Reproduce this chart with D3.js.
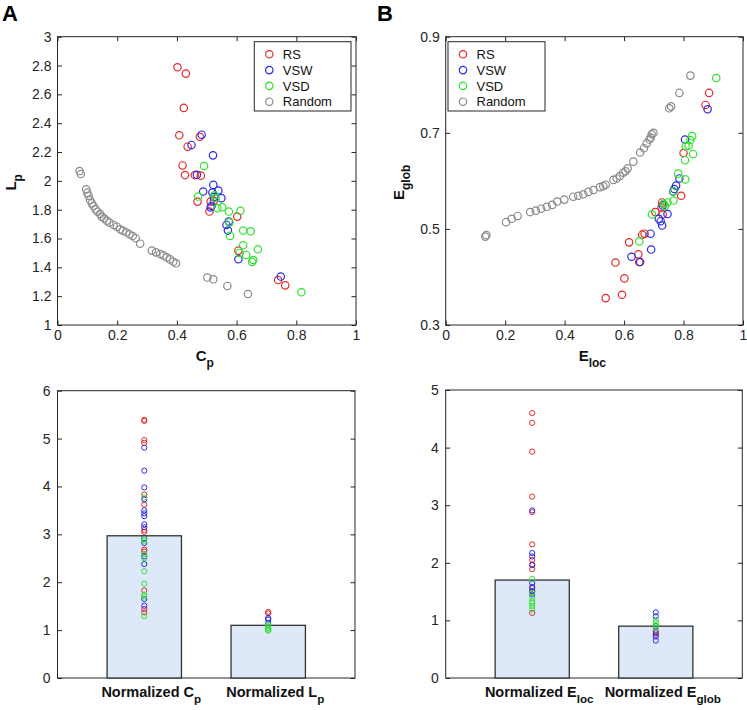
<!DOCTYPE html>
<meta charset="utf-8">
<title>network metrics: RS, VSW, VSD vs random</title>
<style>
body { margin: 0; background: #fff; }
svg { display: block; font-family: "Liberation Sans", Arial, sans-serif; }
.axis .domain { display: none; }
.axis line { stroke: #262626; }
.axis text { fill: #262626; font-size: 14px; }
</style>
<svg width="747" height="710"></svg>
<script src="https://cdn.jsdelivr.net/npm/d3@7/dist/d3.min.js"></script>
<script>
// ---- series ----
var seriesKeys = ["RS", "VSW", "VSD", "Random"];
var seriesColors = ["#e4292b", "#2b2be6", "#2fe22f", "#8a8a8a"];

// panel A : [Cp, Lp]
var rsA = [[0.402,2.788],[0.430,2.744],[0.423,2.506],[0.408,2.316],[0.436,2.237],[0.477,2.306],
  [0.419,2.107],[0.427,2.040],[0.460,2.040],[0.480,2.036],[0.469,1.856],[0.513,1.856],[0.509,1.787],
  [0.524,1.862],[0.602,1.752],[0.606,1.516],[0.739,1.312],[0.763,1.275]];
var vswA = [[0.483,2.320],[0.449,2.249],[0.521,2.177],[0.467,2.042],[0.488,1.926],[0.522,1.972],
  [0.539,1.933],[0.519,1.919],[0.549,1.880],[0.524,1.887],[0.516,1.826],[0.513,1.815],[0.574,1.718],
  [0.566,1.694],[0.571,1.655],[0.606,1.456],[0.748,1.336]];
var vsdA = [[0.491,2.103],[0.471,1.891],[0.530,1.880],[0.526,1.900],[0.536,1.810],[0.552,1.817],
  [0.574,1.787],[0.613,1.792],[0.576,1.712],[0.578,1.618],[0.622,1.655],[0.647,1.650],[0.622,1.553],
  [0.610,1.500],[0.632,1.486],[0.671,1.525],[0.656,1.451],[0.652,1.438],[0.817,1.227]];
var randA = [[0.074,2.068],[0.078,2.047],[0.096,1.941],[0.100,1.918],[0.104,1.897],[0.109,1.867],
  [0.115,1.844],[0.121,1.825],[0.128,1.802],[0.134,1.786],[0.143,1.770],[0.148,1.751],[0.156,1.740],
  [0.165,1.724],[0.174,1.710],[0.188,1.694],[0.199,1.682],[0.210,1.664],[0.219,1.654],[0.230,1.643],
  [0.241,1.629],[0.252,1.617],[0.262,1.602],[0.277,1.564],[0.316,1.516],[0.330,1.504],[0.344,1.492],
  [0.355,1.483],[0.366,1.469],[0.377,1.455],[0.388,1.439],[0.397,1.428],[0.502,1.329],[0.522,1.317],
  [0.569,1.271],[0.638,1.215]];

// panel B : [Eloc, Eglob]
var rsB = [[0.886,0.783],[0.874,0.758],[0.800,0.658],[0.792,0.569],[0.728,0.555],[0.726,0.545],
  [0.730,0.530],[0.705,0.535],[0.661,0.488],[0.669,0.490],[0.617,0.472],[0.648,0.447],[0.651,0.431],
  [0.571,0.430],[0.601,0.397],[0.593,0.363],[0.538,0.356]];
var vswB = [[0.881,0.749],[0.805,0.686],[0.786,0.605],[0.775,0.590],[0.769,0.583],[0.765,0.578],
  [0.730,0.549],[0.746,0.531],[0.717,0.521],[0.723,0.516],[0.728,0.507],[0.689,0.490],[0.691,0.457],
  [0.625,0.442],[0.654,0.431]];
var vsdB = [[0.910,0.814],[0.829,0.693],[0.823,0.685],[0.807,0.672],[0.817,0.673],[0.832,0.656],
  [0.805,0.643],[0.782,0.615],[0.806,0.603],[0.766,0.578],[0.766,0.559],[0.746,0.555],[0.738,0.548],
  [0.733,0.552],[0.694,0.530],[0.651,0.474]];
var randB = [[0.133,0.484],[0.137,0.487],[0.203,0.514],[0.222,0.521],[0.242,0.527],[0.284,0.535],
  [0.303,0.538],[0.321,0.542],[0.340,0.546],[0.358,0.550],[0.375,0.557],[0.399,0.561],[0.429,0.567],
  [0.446,0.569],[0.463,0.572],[0.480,0.577],[0.497,0.581],[0.519,0.587],[0.530,0.589],[0.538,0.592],
  [0.564,0.602],[0.575,0.605],[0.586,0.610],[0.597,0.617],[0.605,0.620],[0.612,0.626],[0.631,0.640],
  [0.654,0.659],[0.667,0.668],[0.676,0.678],[0.685,0.686],[0.690,0.690],[0.693,0.697],[0.699,0.700],
  [0.752,0.751],[0.758,0.755],[0.786,0.783],[0.823,0.819]];

// bottom panels : bar means and per-network normalized values
var barA = [2.97, 1.10];
var barB = [1.70, 0.90];
var normCp = { RS: [5.39,5.37,4.97,4.91,3.83,3.62,3.09,3.05,2.68,2.64,1.83,1.44,1.37],
  VSW: [4.81,4.33,3.98,3.73,3.50,3.44,3.38,3.21,3.15,2.92,2.82,2.54,2.38,1.65,1.51],
  VSD: [3.77,2.90,2.87,2.59,2.50,2.23,1.97,1.74,1.70,1.29] };
var normLp = { RS: [1.38,1.35], VSW: [1.25,1.22,1.15], VSD: [1.11,1.08,1.04,1.01,0.99] };
var normEloc = { RS: [4.60,4.43,3.93,3.15,2.88,2.32,2.05,1.97,1.89,1.56,1.50,1.13],
  VSW: [2.91,2.17,2.11,1.96,1.65,1.58,1.51,1.45], VSD: [1.72,1.48,1.39,1.33,1.30,1.25,1.19] };
var normEglob = { RS: [0.81,0.75], VSW: [1.14,1.07,0.90,0.78,0.72,0.65], VSD: [1.01,0.96,0.91,0.87] };

// ---- ticks ----
var unitTicks = [0, 0.2, 0.4, 0.6, 0.8, 1];
var lpTicks = [1, 1.2, 1.4, 1.6, 1.8, 2, 2.2, 2.4, 2.6, 2.8, 3];
var eglobTicks = [0.3, 0.5, 0.7, 0.9];
var barTicksA = [0, 1, 2, 3, 4, 5, 6];
var barTicksB = [0, 1, 2, 3, 4, 5];

var svg = d3.select("svg");
var ink = "#262626";
var color = d3.scaleOrdinal().domain(seriesKeys).range(seriesColors);
var fmt = d3.format("~g");

// box with inward ticks on all four sides, like a matlab axes
function frame(box, x, y, xTicks, yTicks, pad) {
  var g = svg.append("g");
  g.append("g").attr("class", "axis")
    .attr("transform", "translate(0," + box.bottom + ")")
    .call(d3.axisBottom(x).tickValues(xTicks).tickFormat(xTicks.length ? fmt : "").tickSizeInner(-4.5).tickSizeOuter(0).tickPadding(5));
  g.append("g").attr("class", "axis")
    .attr("transform", "translate(0," + box.top + ")")
    .call(d3.axisTop(x).tickValues(xTicks).tickFormat("").tickSizeInner(-4.5).tickSizeOuter(0));
  g.append("g").attr("class", "axis")
    .attr("transform", "translate(" + box.left + ",0)")
    .call(d3.axisLeft(y).tickValues(yTicks).tickFormat(fmt).tickSizeInner(-4.5).tickSizeOuter(0).tickPadding(pad));
  g.append("g").attr("class", "axis")
    .attr("transform", "translate(" + box.right + ",0)")
    .call(d3.axisRight(y).tickValues(yTicks).tickFormat("").tickSizeInner(-4.5).tickSizeOuter(0));
  g.append("rect")
    .attr("x", box.left).attr("y", box.top)
    .attr("width", box.right - box.left).attr("height", box.bottom - box.top)
    .attr("fill", "none").attr("stroke", ink).attr("stroke-width", 1);
  return g;
}

function subLabel(sel, main, sub, size) {
  sel.append("tspan").text(main);
  sel.append("tspan").attr("dy", size * 0.4).attr("font-size", size * 0.8).text(sub);
}

function scatterPanel(box, xDom, yDom, yTicks, sets, legendBox, xLab, yLab, letter) {
  var x = d3.scaleLinear().domain(xDom).range([box.left, box.right]);
  var y = d3.scaleLinear().domain(yDom).range([box.bottom, box.top]);
  var g = frame(box, x, y, unitTicks, yTicks, 6);

  sets.forEach(function(s) {
    g.append("g").selectAll("circle")
      .data(s.values)
      .enter().append("circle")
      .attr("cx", function(d) { return x(d[0]); })
      .attr("cy", function(d) { return y(d[1]); })
      .attr("r", 3.7)
      .attr("fill", "none")
      .attr("stroke", color(s.key))
      .attr("stroke-width", 1.2);
  });

  // legend
  var lg = svg.append("g");
  lg.append("rect")
    .attr("x", legendBox.x).attr("y", legendBox.y)
    .attr("width", legendBox.w).attr("height", legendBox.h)
    .attr("fill", "#fff").attr("stroke", ink).attr("stroke-width", 1);
  var row = lg.selectAll("g.row")
    .data(seriesKeys)
    .enter().append("g")
    .attr("class", "row")
    .attr("transform", function(d, i) { return "translate(" + legendBox.x + "," + (legendBox.y + 12.6 + i * 15.8) + ")"; });
  row.append("circle")
    .attr("cx", 15).attr("r", 3.7)
    .attr("fill", "none").attr("stroke", color).attr("stroke-width", 1.2);
  row.append("text")
    .attr("x", 28.5).attr("dy", "0.36em")
    .attr("fill", "#111").attr("font-size", 13)
    .text(function(d) { return d; });

  // axis titles
  var xt = svg.append("text")
    .attr("x", (box.left + box.right) / 2 - 2).attr("y", box.bottom + 36)
    .attr("text-anchor", "middle").attr("font-weight", "bold").attr("font-size", 15).attr("fill", "#111");
  subLabel(xt, xLab[0], xLab[1], 15);
  var yt = svg.append("text")
    .attr("transform", "translate(" + yLab.x + "," + ((box.top + box.bottom) / 2 + 1.5) + ") rotate(-90)")
    .attr("text-anchor", "middle").attr("font-weight", "bold").attr("font-size", 15).attr("fill", "#111");
  subLabel(yt, yLab.t[0], yLab.t[1], 15);

  svg.append("text")
    .attr("x", letter.x).attr("y", 21)
    .attr("font-weight", "bold").attr("font-size", 22).attr("fill", "#000")
    .text(letter.t);
}

function barPanel(box, yMax, yTicks, means, groups, cats) {
  var x = d3.scaleLinear().domain([0.3, 2.7]).range([box.left, box.right]);
  var y = d3.scaleLinear().domain([0, yMax]).range([box.bottom, box.top]);
  var g = frame(box, x, y, [], yTicks, 7);

  g.append("g").selectAll("rect")
    .data(means)
    .enter().append("rect")
    .attr("x", function(d, i) { return x(i + 1 - 0.3); })
    .attr("width", x(1.6) - x(1))
    .attr("y", function(d) { return y(d); })
    .attr("height", function(d) { return y(0) - y(d); })
    .attr("fill", "#dde9f8")
    .attr("stroke", "#333").attr("stroke-width", 1.3);

  groups.forEach(function(grp, i) {
    seriesKeys.slice(0, 3).forEach(function(k) {
      g.append("g").selectAll("circle")
        .data(grp[k])
        .enter().append("circle")
        .attr("cx", x(i + 1))
        .attr("cy", function(d) { return y(d); })
        .attr("r", 2.6)
        .attr("fill", "none")
        .attr("stroke", color(k))
        .attr("stroke-width", 1);
    });
  });

  cats.forEach(function(c, i) {
    var t = svg.append("text")
      .attr("x", x(i + 1) + 7).attr("y", box.bottom + 19)
      .attr("text-anchor", "middle").attr("font-weight", "bold").attr("font-size", 14.5).attr("fill", "#111");
    subLabel(t, c[0], c[1], 14.5);
  });
}

scatterPanel({left: 57.5, right: 356, top: 36.7, bottom: 325}, [0, 1], [1, 3], lpTicks,
  [{key: "RS", values: rsA}, {key: "VSW", values: vswA}, {key: "VSD", values: vsdA}, {key: "Random", values: randA}],
  {x: 254.3, y: 41.7, w: 96.7, h: 69.3}, ["C", "p"], {x: 16, t: ["L", "p"]}, {x: 2, t: "A"});

scatterPanel({left: 445.7, right: 743, top: 36.7, bottom: 325}, [0, 1], [0.3, 0.9], eglobTicks,
  [{key: "RS", values: rsB}, {key: "VSW", values: vswB}, {key: "VSD", values: vsdB}, {key: "Random", values: randB}],
  {x: 448, y: 41.7, w: 97, h: 69.3}, ["E", "loc"], {x: 404, t: ["E", "glob"]}, {x: 377, t: "B"});

barPanel({left: 57.5, right: 355, top: 390.7, bottom: 678}, 6, barTicksA, barA,
  [normCp, normLp], [["Normalized C", "p"], ["Normalized L", "p"]]);

barPanel({left: 445.7, right: 742.3, top: 390, bottom: 678}, 5, barTicksB, barB,
  [normEloc, normEglob], [["Normalized E", "loc"], ["Normalized E", "glob"]]);
</script>
